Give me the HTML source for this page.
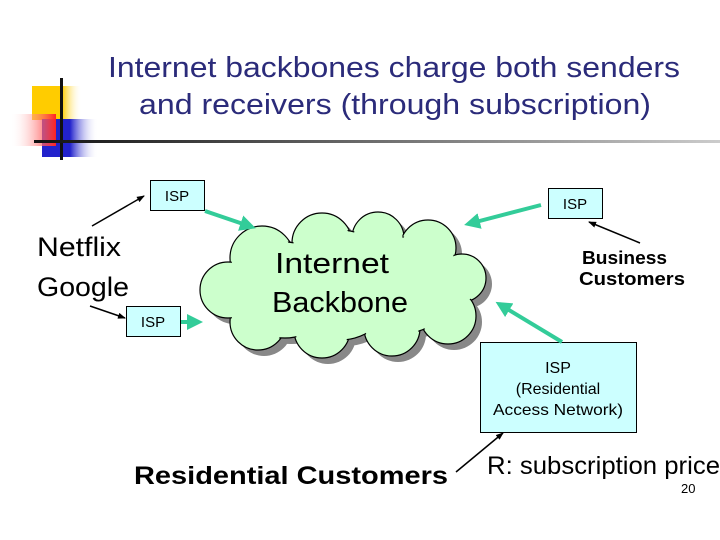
<!DOCTYPE html>
<html><head><meta charset="utf-8"><style>
html,body{margin:0;padding:0;background:#fff;}
svg{display:block;}
text{font-family:"Liberation Sans",sans-serif;}
</style></head><body>
<svg width="720" height="540" viewBox="0 0 720 540" xmlns="http://www.w3.org/2000/svg">
<defs>
<linearGradient id="yl" x1="0" x2="1"><stop offset="0" stop-color="#ffcc00"/><stop offset="0.6" stop-color="#ffcc00"/><stop offset="1" stop-color="#fff" stop-opacity="0"/></linearGradient>
<linearGradient id="rd" x1="1" x2="0"><stop offset="0" stop-color="#ff2222"/><stop offset="1" stop-color="#fff" stop-opacity="0"/></linearGradient>
<linearGradient id="bl" x1="0" x2="1"><stop offset="0" stop-color="#2222cc"/><stop offset="0.5" stop-color="#2222cc"/><stop offset="1" stop-color="#fff" stop-opacity="0"/></linearGradient>
<linearGradient id="ln" x1="0" x2="1"><stop offset="0" stop-color="#111"/><stop offset="1" stop-color="#ccc"/></linearGradient>
<marker id="ta" markerWidth="4" markerHeight="4" refX="3" refY="2" orient="auto"><path d="M0,0 L4,2 L0,4 z" fill="#33cc99"/></marker>
<marker id="ba" markerWidth="8" markerHeight="6" refX="7" refY="3" orient="auto" markerUnits="userSpaceOnUse"><path d="M0,0 L8,3 L0,6 z" fill="#000"/></marker>
<g id="cl">
<circle cx="262" cy="258" r="32"/><circle cx="322" cy="243" r="30"/><circle cx="378" cy="238" r="26"/><circle cx="428" cy="248" r="28"/><circle cx="462" cy="278" r="24"/><circle cx="448" cy="316" r="28"/><circle cx="392" cy="328" r="28"/><circle cx="322" cy="330" r="28"/><circle cx="258" cy="322" r="28"/><circle cx="228" cy="290" r="28"/><circle cx="340" cy="285" r="55"/><circle cx="405" cy="285" r="48"/><circle cx="285" cy="290" r="48"/>
</g>
<g id="clin">
<circle cx="262" cy="258" r="30.5"/><circle cx="322" cy="243" r="28.5"/><circle cx="378" cy="238" r="24.5"/><circle cx="428" cy="248" r="26.5"/><circle cx="462" cy="278" r="22.5"/><circle cx="448" cy="316" r="26.5"/><circle cx="392" cy="328" r="26.5"/><circle cx="322" cy="330" r="26.5"/><circle cx="258" cy="322" r="26.5"/><circle cx="228" cy="290" r="26.5"/><circle cx="340" cy="285" r="53.5"/><circle cx="405" cy="285" r="46.5"/><circle cx="285" cy="290" r="46.5"/>
</g>
</defs>
<rect x="32" y="86" width="50" height="34" fill="url(#yl)"/>
<rect x="42" y="119" width="56" height="38" fill="url(#bl)"/>
<rect x="10" y="114" width="46" height="32" fill="url(#rd)"/>
<rect x="60" y="78" width="3" height="82" fill="#111"/>
<rect x="34" y="140" width="686" height="3" fill="url(#ln)"/>
<text x="108" y="77" font-size="29" fill="#2b2b7a" textLength="572" lengthAdjust="spacingAndGlyphs">Internet backbones charge both senders</text>
<text x="139" y="114" font-size="29" fill="#2b2b7a" textLength="512" lengthAdjust="spacingAndGlyphs">and receivers (through subscription)</text>
<g fill="#888" transform="translate(6,6)"><use href="#cl"/></g>
<g fill="#ccffcc" stroke="#000" stroke-width="1.2"><use href="#cl"/></g>
<g fill="#ccffcc"><use href="#clin"/></g>
<text x="275" y="273" font-size="29" textLength="114" lengthAdjust="spacingAndGlyphs">Internet</text>
<text x="272" y="312" font-size="29" textLength="136" lengthAdjust="spacingAndGlyphs">Backbone</text>
<rect x="150.5" y="180.5" width="54" height="30" fill="#ccffff" stroke="#000"/>
<text x="177" y="201" font-size="15" text-anchor="middle">ISP</text>
<rect x="126.5" y="306.5" width="54" height="30" fill="#ccffff" stroke="#000"/>
<text x="153" y="327" font-size="15" text-anchor="middle">ISP</text>
<rect x="548.5" y="188.5" width="54" height="30" fill="#ccffff" stroke="#000"/>
<text x="575" y="209" font-size="15" text-anchor="middle">ISP</text>
<rect x="480.5" y="342.5" width="156" height="90" fill="#ccffff" stroke="#000"/>
<text x="558" y="373" font-size="16" text-anchor="middle">ISP</text>
<text x="558" y="394" font-size="16" text-anchor="middle">(Residential</text>
<text x="493" y="415" font-size="16" textLength="130" lengthAdjust="spacingAndGlyphs">Access Network)</text>
<g stroke="#33cc99" stroke-width="4" fill="none" marker-end="url(#ta)">
<line x1="205" y1="211" x2="252" y2="227"/>
<line x1="181" y1="322" x2="199" y2="322"/>
<line x1="541" y1="205" x2="468" y2="224"/>
<line x1="562" y1="342" x2="499" y2="304"/>
</g>
<g stroke="#000" stroke-width="1.5" marker-end="url(#ba)">
<line x1="92" y1="226" x2="144" y2="196"/>
<line x1="90" y1="306" x2="125" y2="318"/>
<line x1="640" y1="243" x2="589" y2="222"/>
<line x1="456" y1="472" x2="503" y2="433"/>
</g>
<text x="37" y="256" font-size="27" textLength="84" lengthAdjust="spacingAndGlyphs">Netflix</text>
<text x="37" y="296" font-size="27" textLength="92" lengthAdjust="spacingAndGlyphs">Google</text>
<text x="582" y="264" font-size="18" font-weight="bold" textLength="85" lengthAdjust="spacingAndGlyphs">Business</text>
<text x="579" y="285" font-size="18" font-weight="bold" textLength="106" lengthAdjust="spacingAndGlyphs">Customers</text>
<text x="134" y="484" font-size="25" font-weight="bold" textLength="314" lengthAdjust="spacingAndGlyphs">Residential Customers</text>
<text x="487" y="474" font-size="25" textLength="233" lengthAdjust="spacingAndGlyphs">R: subscription price</text>
<text x="681" y="493" font-size="13">20</text>
</svg>
</body></html>
